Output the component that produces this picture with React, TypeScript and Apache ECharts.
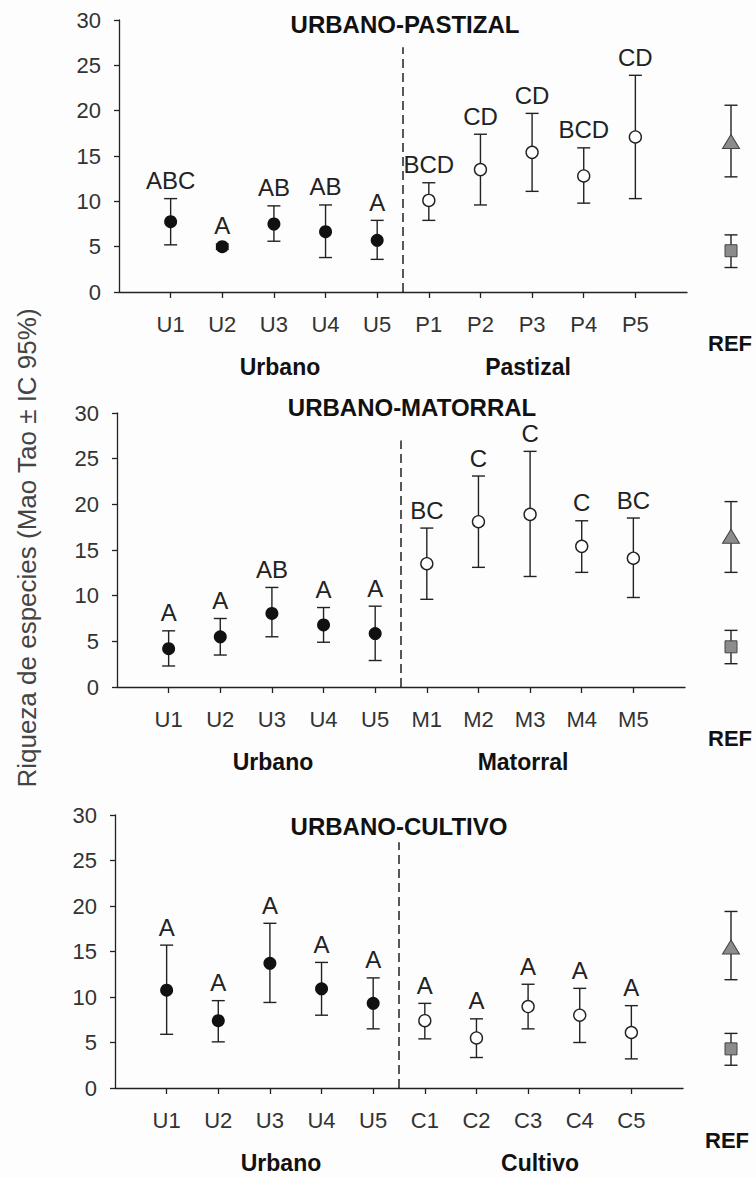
import React, { useEffect, useRef } from 'react';
import * as echarts from 'echarts';

// ---------- data ----------
const urbanCats = ['U1', 'U2', 'U3', 'U4', 'U5'];
const pastizalCats = ['P1', 'P2', 'P3', 'P4', 'P5'];
const matorralCats = ['M1', 'M2', 'M3', 'M4', 'M5'];
const cultivoCats = ['C1', 'C2', 'C3', 'C4', 'C5'];
const yTicks = [0, 5, 10, 15, 20, 25, 30];

// Panel 1: URBANO-PASTIZAL
const means1 = [7.75, 5.0, 7.5, 6.65, 5.7, 10.1, 13.5, 15.4, 12.8, 17.1];
const lower1 = [5.2, 4.7, 5.6, 3.8, 3.6, 7.9, 9.6, 11.1, 9.8, 10.3];
const upper1 = [10.3, 5.3, 9.5, 9.6, 7.9, 12.05, 17.4, 19.7, 15.9, 23.9];
const letters1 = ['ABC', 'A', 'AB', 'AB', 'A', 'BCD', 'CD', 'CD', 'BCD', 'CD'];
const refTri1 = [16.6, 12.7, 20.6]; // mean, lower, upper
const refSq1 = [4.55, 2.7, 6.3];

// Panel 2: URBANO-MATORRAL
const means2 = [4.2, 5.5, 8.05, 6.8, 5.85, 13.5, 18.1, 18.9, 15.4, 14.1];
const lower2 = [2.3, 3.5, 5.5, 4.9, 2.9, 9.6, 13.1, 12.1, 12.55, 9.8];
const upper2 = [6.15, 7.5, 10.9, 8.7, 8.85, 17.4, 23.1, 25.8, 18.2, 18.5];
const letters2 = ['A', 'A', 'AB', 'A', 'A', 'BC', 'C', 'C', 'C', 'BC'];
const refTri2 = [16.5, 12.55, 20.3];
const refSq2 = [4.4, 2.55, 6.2];

// Panel 3: URBANO-CULTIVO
const means3 = [10.75, 7.4, 13.7, 10.9, 9.3, 7.4, 5.5, 8.95, 8.0, 6.1];
const lower3 = [5.9, 5.07, 9.4, 8.0, 6.5, 5.4, 3.35, 6.5, 5.0, 3.2];
const upper3 = [15.7, 9.6, 18.1, 13.8, 12.1, 9.3, 7.6, 11.4, 10.95, 9.05];
const letters3 = ['A', 'A', 'A', 'A', 'A', 'A', 'A', 'A', 'A', 'A'];
const refTri3 = [15.5, 11.9, 19.4];
const refSq3 = [4.3, 2.5, 6.0];

const titles = ['URBANO-PASTIZAL', 'URBANO-MATORRAL', 'URBANO-CULTIVO'];
const groupNames = [['Urbano', 'Pastizal'], ['Urbano', 'Matorral'], ['Urbano', 'Cultivo']];
const yTitle = 'Riqueza de especies (Mao Tao \u00b1 IC 95%)';
const refLabel = 'REF';

// ---------- layout ----------
const FONT = '"Liberation Sans", Arial, Helvetica, sans-serif';
const INK = '#222';
const TXT = '#333';

const panels = [
  {
    cats: [...urbanCats, ...pastizalCats], means: means1, lower: lower1, upper: upper1, letters: letters1,
    tri: refTri1, sq: refSq1,
    grid: { left: 119, top: 20, width: 568, height: 272 },
    titlePos: [405, 24], groupPos: [[280, 367], [528, 367]], refPos: [730, 343],
  },
  {
    cats: [...urbanCats, ...matorralCats], means: means2, lower: lower2, upper: upper2, letters: letters2,
    tri: refTri2, sq: refSq2,
    grid: { left: 117, top: 413, width: 568, height: 274 },
    titlePos: [412, 407], groupPos: [[273, 762], [523, 762]], refPos: [730, 738],
  },
  {
    cats: [...urbanCats, ...cultivoCats], means: means3, lower: lower3, upper: upper3, letters: letters3,
    tri: refTri3, sq: refSq3,
    grid: { left: 115, top: 815, width: 568, height: 273 },
    titlePos: [399, 826], groupPos: [[281, 1163], [540, 1163]], refPos: [727, 1140],
  },
];

const makeErrRender = (letters: string[] | null) => (params: any, api: any) => {
  const x = api.value(0);
  const lo = api.coord([x, api.value(1)]);
  const hi = api.coord([x, api.value(2)]);
  const cap = 6.5;
  const style = { stroke: INK, lineWidth: 1.4 };
  const children: any[] = [
    { type: 'line', shape: { x1: lo[0], y1: lo[1], x2: hi[0], y2: hi[1] }, style },
    { type: 'line', shape: { x1: lo[0] - cap, y1: lo[1], x2: lo[0] + cap, y2: lo[1] }, style },
    { type: 'line', shape: { x1: hi[0] - cap, y1: hi[1], x2: hi[0] + cap, y2: hi[1] }, style },
  ];
  if (letters) {
    children.push({
      type: 'text',
      x: hi[0],
      y: hi[1] - 6,
      style: {
        text: letters[params.dataIndex],
        fill: INK,
        fontSize: 24,
        fontFamily: FONT,
        align: 'center',
        verticalAlign: 'bottom',
      },
    });
  }
  return { type: 'group', children };
};

function buildOption() {
  const grids: any[] = [];
  const xAxes: any[] = [];
  const yAxes: any[] = [];
  const series: any[] = [];
  const graphics: any[] = [];

  panels.forEach((p, pi) => {
    const gMain = pi * 2;
    const gRef = pi * 2 + 1;
    grids.push({ ...p.grid, containLabel: false });
    grids.push({ left: 721, top: p.grid.top, width: 20, height: p.grid.height, containLabel: false });

    const positions = p.cats.map((_, i) => i + 1);
    xAxes.push({
      gridIndex: gMain, type: 'value', min: 0, max: 11, interval: 1,
      axisLine: { show: true, onZero: false, lineStyle: { color: INK, width: 1.3 } },
      axisTick: { show: true, customValues: positions, length: 6, lineStyle: { color: INK, width: 1.3 } },
      axisLabel: {
        customValues: positions, margin: 21, fontSize: 22, fontFamily: FONT, color: TXT,
        formatter: (v: number) => p.cats[Math.round(v) - 1] ?? '',
      },
      splitLine: { show: false },
    });
    xAxes.push({ gridIndex: gRef, type: 'value', min: 0, max: 2, show: false });
    yAxes.push({
      gridIndex: gMain, type: 'value', min: 0, max: 30, interval: 5,
      axisLine: { show: true, lineStyle: { color: INK, width: 1.3 } },
      axisTick: { show: true, length: 5, lineStyle: { color: INK, width: 1.3 } },
      axisLabel: { margin: 18, fontSize: 22, fontFamily: FONT, color: TXT, customValues: yTicks },
      splitLine: { show: false },
    });
    yAxes.push({ gridIndex: gRef, type: 'value', min: 0, max: 30, show: false });

    // dashed divider
    series.push({
      type: 'line', xAxisIndex: gMain, yAxisIndex: gMain, symbol: 'none', silent: true,
      data: [[5.5, 0], [5.5, 27]],
      lineStyle: { color: '#111', width: 1.4, type: [9, 5] }, z: 1,
    });
    // error bars + letters
    series.push({
      type: 'custom', xAxisIndex: gMain, yAxisIndex: gMain, z: 2,
      renderItem: makeErrRender(p.letters),
      data: p.cats.map((_, i) => [i + 1, p.lower[i], p.upper[i]]),
    });
    // urban (filled) markers
    series.push({
      type: 'scatter', xAxisIndex: gMain, yAxisIndex: gMain, z: 3, symbol: 'circle', symbolSize: 13,
      itemStyle: { color: '#111', opacity: 1 },
      data: p.means.slice(0, 5).map((m, i) => [i + 1, m]),
    });
    // other (open) markers
    series.push({
      type: 'scatter', xAxisIndex: gMain, yAxisIndex: gMain, z: 3, symbol: 'circle', symbolSize: 12,
      itemStyle: { color: '#fff', borderColor: INK, borderWidth: 1.4, opacity: 1 },
      data: p.means.slice(5).map((m, i) => [i + 6, m]),
    });
    // REF error bars
    series.push({
      type: 'custom', xAxisIndex: gRef, yAxisIndex: gRef, z: 2,
      renderItem: makeErrRender(null),
      data: [[1, p.tri[1], p.tri[2]], [1, p.sq[1], p.sq[2]]],
    });
    series.push({
      type: 'scatter', xAxisIndex: gRef, yAxisIndex: gRef, z: 3, symbol: 'triangle', symbolSize: [17, 14],
      itemStyle: { color: '#8c8c8c', borderColor: '#444', borderWidth: 1, opacity: 1 },
      data: [[1, p.tri[0]]],
    });
    series.push({
      type: 'scatter', xAxisIndex: gRef, yAxisIndex: gRef, z: 3, symbol: 'rect', symbolSize: 12,
      itemStyle: { color: '#8c8c8c', borderColor: '#444', borderWidth: 1, opacity: 1 },
      data: [[1, p.sq[0]]],
    });

    graphics.push({
      type: 'text', x: p.titlePos[0], y: p.titlePos[1],
      style: { text: titles[pi], fill: '#111', fontSize: 24, fontWeight: 'bold', fontFamily: FONT, align: 'center', verticalAlign: 'middle' },
    });
    p.groupPos.forEach((gp, gi) => {
      graphics.push({
        type: 'text', x: gp[0], y: gp[1],
        style: { text: groupNames[pi][gi], fill: '#111', fontSize: 23, fontWeight: 'bold', fontFamily: FONT, align: 'center', verticalAlign: 'middle' },
      });
    });
    graphics.push({
      type: 'text', x: p.refPos[0], y: p.refPos[1],
      style: { text: refLabel, fill: '#111', fontSize: 22, fontWeight: 'bold', fontFamily: FONT, align: 'center', verticalAlign: 'middle' },
    });
  });

  graphics.push({
    type: 'text', x: 27, y: 548, rotation: Math.PI / 2,
    style: { text: yTitle, fill: '#444', fontSize: 26, fontFamily: FONT, align: 'center', verticalAlign: 'middle' },
  });

  return {
    animation: false,
    backgroundColor: '#fdfdfd',
    grid: grids,
    xAxis: xAxes,
    yAxis: yAxes,
    series,
    graphic: graphics,
  };
}

export default function App() {
  const ref = useRef<HTMLDivElement>(null);
  useEffect(() => {
    document.body.style.margin = '0';
    if (!ref.current) return;
    const chart = echarts.init(ref.current, undefined, { renderer: 'svg' });
    chart.setOption(buildOption() as any);
    return () => chart.dispose();
  }, []);
  return <div ref={ref} style={{ width: 756, height: 1178, background: '#fdfdfd' }} />;
}
